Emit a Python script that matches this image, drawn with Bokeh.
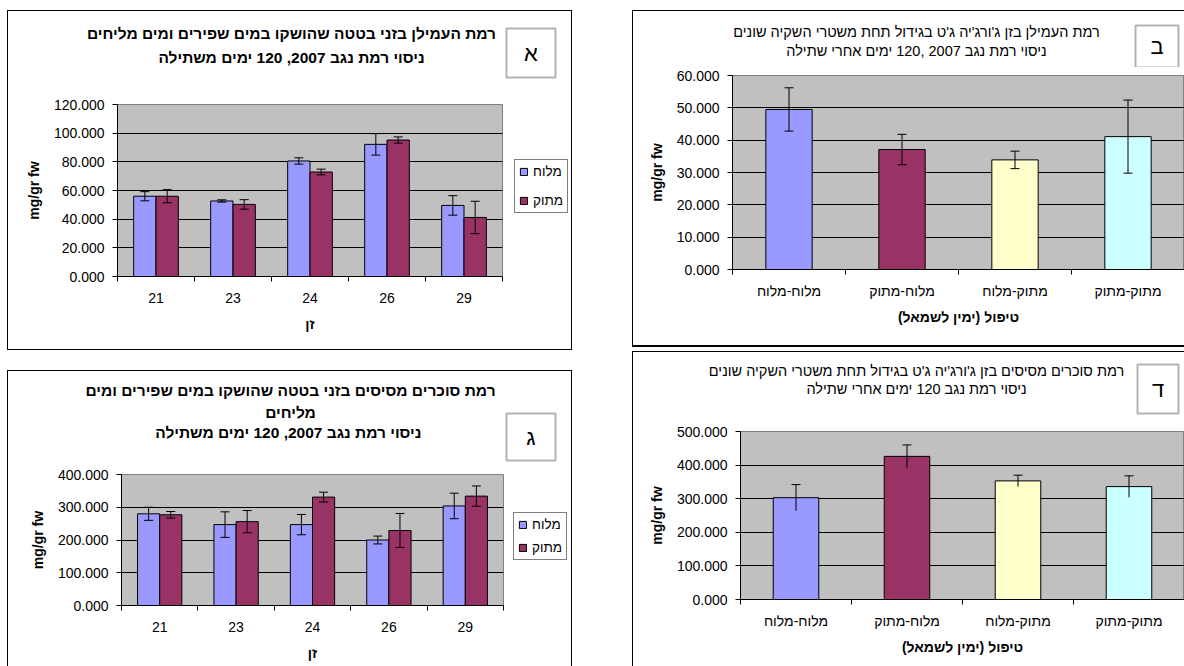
import numpy as np
from bokeh.plotting import figure
from bokeh.models import (Range1d, FixedTicker, NumeralTickFormatter, Label, Legend,
                          LegendItem, Whisker, TeeHead, ColumnDataSource, Spacer, BoxAnnotation)
from bokeh.layouts import row, column
from bokeh.embed import file_html
from bokeh.resources import INLINE

RLM = "\u200f"
FONT = "Liberation Sans"

# ---------------- data ----------------
cultivars = ["21", "23", "24", "26", "29"]
series_names = ["מלוח", "מתוק"]
series_colors = ["#9999FF", "#993366"]

starch_salty = [56.0, 52.7, 80.6, 92.2, 49.6]
starch_salty_err = [3.2, 0.8, 2.2, 7.5, 6.8]
starch_sweet = [56.0, 50.3, 72.9, 95.2, 41.2]
starch_sweet_err = [4.6, 3.3, 2.0, 2.2, 11.3]

sugar_salty = [280.0, 247.0, 247.0, 200.0, 304.0]
sugar_salty_err = [20.0, 39.0, 31.0, 12.0, 39.0]
sugar_sweet = [277.0, 256.0, 331.0, 229.0, 334.0]
sugar_sweet_err = [10.0, 34.0, 15.0, 52.0, 31.0]

treatments = ["מלוח-מלוח", "מלוח-מתוק", "מתוק-מלוח", "מתוק-מתוק"]
treatment_colors = ["#9999FF", "#993366", "#FFFFCC", "#CCFFFF"]
gj_starch = [49.5, 37.1, 33.9, 41.1]
gj_starch_err = [6.7, 4.7, 2.7, 11.3]
gj_sugar = [303.0, 426.0, 353.0, 336.0]
gj_sugar_err = [39.0, 34.0, 17.0, 32.0]

title_a = ["רמת העמילן בזני בטטה שהושקו במים שפירים ומים מליחים",
           "ניסוי רמת נגב 2007, 120 ימים משתילה"]
title_b = ["רמת העמילן בזן ג'ורג'יה ג'ט בגידול תחת משטרי השקיה שונים",
           "ניסוי רמת נגב 2007 ,120 ימים אחרי שתילה"]
title_c = ["רמת סוכרים מסיסים בזני בטטה שהושקו במים שפירים ומים",
           "מליחים",
           "ניסוי רמת נגב  2007, 120 ימים משתילה"]
title_d = ["רמת סוכרים מסיסים בזן ג'ורג'יה ג'ט בגידול תחת משטרי השקיה שונים",
           "ניסוי רמת נגב 120 ימים אחרי שתילה"]
y_title = "mg/gr fw"
x_title_cultivar = "זן"
x_title_treat = "טיפול (ימין לשמאל)" + RLM

TICK_FS = "14px"
AXT_FS = "14px"


def blank_fig(width, height):
    d = figure(width=width, height=height, x_range=Range1d(0, 1), y_range=Range1d(0, 1),
               output_backend="svg", toolbar_location=None, frame_align=False,
               x_axis_type=None, y_axis_type=None, min_border=0)
    d.title.visible = False
    d.grid.visible = False
    d.outline_line_color = None
    d.background_fill_color = "white"
    d.border_fill_color = "white"
    return d


def make_chart(width, height, labels, ymax, ystep, borders):
    n = len(labels)
    left, right, top, bottom = borders
    p = figure(width=width, height=height,
               x_range=Range1d(0.5, n + 0.5), y_range=Range1d(0, ymax),
               output_backend="svg", toolbar_location=None, frame_align=False,
               min_border_left=left, min_border_right=right,
               min_border_top=top, min_border_bottom=bottom)
    p.title.visible = False
    p.background_fill_color = "#C0C0C0"
    p.border_fill_color = "white"
    p.outline_line_color = "#808080"
    p.xgrid.visible = False
    p.ygrid.grid_line_color = "black"
    p.ygrid.grid_line_width = 1

    centers = list(range(1, n + 1))
    bounds = [c - 0.5 for c in centers] + [n + 0.5]
    p.xaxis.ticker = FixedTicker(ticks=centers, minor_ticks=bounds)
    p.xaxis.major_label_overrides = {c: RLM + l + RLM for c, l in zip(centers, labels)}
    p.xaxis.major_tick_out = 0
    p.xaxis.major_tick_in = 0
    p.xaxis.minor_tick_out = 5
    p.xaxis.minor_tick_in = 0
    p.xaxis.minor_tick_line_color = "black"
    p.xaxis.axis_line_color = "black"
    p.xaxis.major_label_standoff = 8
    p.xaxis.major_label_text_font = FONT
    p.xaxis.major_label_text_font_size = TICK_FS
    p.xaxis.major_label_text_color = "black"
    p.xaxis.axis_label_text_font = FONT
    p.xaxis.axis_label_text_font_size = AXT_FS
    p.xaxis.axis_label_text_font_style = "bold"
    p.xaxis.axis_label_text_color = "black"
    p.xaxis.axis_label_standoff = 7

    p.yaxis.ticker = FixedTicker(ticks=list(range(0, ymax + 1, ystep)))
    p.yaxis.formatter = NumeralTickFormatter(format="0.000")
    p.yaxis.major_tick_out = 5
    p.yaxis.major_tick_in = 0
    p.yaxis.minor_tick_line_color = None
    p.yaxis.axis_line_color = "black"
    p.yaxis.major_label_standoff = 8
    p.yaxis.major_label_text_font = FONT
    p.yaxis.major_label_text_font_size = TICK_FS
    p.yaxis.major_label_text_color = "black"
    p.yaxis.axis_label = y_title
    p.yaxis.axis_label_text_font = FONT
    p.yaxis.axis_label_text_font_size = AXT_FS
    p.yaxis.axis_label_text_font_style = "bold"
    p.yaxis.axis_label_text_color = "black"
    p.yaxis.axis_label_standoff = 9
    return p


def add_titles(d, height, x, ys, lines, size, bold):
    for y, t in zip(ys, lines):
        d.add_layout(Label(x=x, y=height - y, x_units="screen", y_units="screen",
                           text=RLM + t + RLM, text_align="center", text_baseline="middle",
                           text_font=FONT, text_font_size=size,
                           text_font_style="bold" if bold else "normal", text_color="black"))


def add_letter(d, height, box, letter):
    x0, y0, x1, y1 = box
    d.add_layout(BoxAnnotation(left=x0, right=x1, top=height - y0, bottom=height - y1,
                               left_units="screen", right_units="screen",
                               top_units="screen", bottom_units="screen",
                               fill_color="white", fill_alpha=1,
                               line_color="black", line_width=2))
    d.add_layout(Label(x=(x0 + x1) / 2, y=height - (y0 + y1) / 2, x_units="screen",
                       y_units="screen", text=letter, text_align="center",
                       text_baseline="middle", text_font=FONT, text_font_size="22px",
                       text_color="black"))


def add_errors(p, xs, vals, errs, lower_cap=True):
    vals = np.array(vals)
    errs = np.array(errs)
    src = ColumnDataSource(dict(x=xs, upper=vals + errs, lower=vals - errs))
    w = Whisker(source=src, base="x", upper="upper", lower="lower",
                line_color="black", line_width=1, level="overlay",
                upper_head=TeeHead(size=9, line_color="black", line_width=1),
                lower_head=TeeHead(size=9, line_color="black", line_width=1) if lower_cap else None)
    p.add_layout(w)


def grouped_panel(width, height, head_h, leg_w, ymax, ystep, borders, s1, e1, s2, e2,
                  title_lines, title_x, title_ys, letter, letter_box,
                  legend_loc, legend_pad, legend_spacing, css):
    ch = height - head_h
    p = make_chart(width - leg_w, ch, cultivars, ymax, ystep, borders)
    idx = np.arange(1, len(cultivars) + 1)
    bw = 0.29
    series = [(s1, e1), (s2, e2)]
    for k, (vals, errs) in enumerate(series):
        xs = idx + (k - 0.5) * bw
        p.vbar(x=xs, top=vals, width=bw, fill_color=series_colors[k],
               line_color="black", line_width=1)
        add_errors(p, xs, vals, errs)
    p.xaxis.axis_label = x_title_cultivar

    # legend area beside the plot: hidden copies of the series supply the swatches
    lf = blank_fig(leg_w, ch)
    proxies = [lf.vbar(x=idx, top=series[k][0], width=bw, fill_color=series_colors[k],
                       line_color="black", line_width=1, visible=False) for k in range(2)]
    leg = Legend(items=[LegendItem(label=series_names[k], renderers=[proxies[k]]) for k in range(2)],
                 location=legend_loc, margin=0, padding=legend_pad, spacing=legend_spacing,
                 border_line_color="black", border_line_width=1,
                 background_fill_color="white", background_fill_alpha=1,
                 label_text_font=FONT, label_text_font_size="13.5px", label_text_color="black",
                 glyph_width=9, glyph_height=9, label_height=12, label_standoff=5,
                 click_policy="none")
    lf.add_layout(leg)

    d = blank_fig(width, head_h)
    add_titles(d, head_h, title_x, title_ys, title_lines, "15.5px", True)
    add_letter(d, head_h, letter_box, letter)
    return column(d, row(p, lf), styles=css)


def treatment_panel(width, height, head_h, ymax, ystep, borders, vals, errs,
                    title_lines, title_x, title_ys, letter, letter_box, lower_cap, css):
    p = make_chart(width, height - head_h, treatments, ymax, ystep, borders)
    idx = np.arange(1, len(treatments) + 1)
    src = ColumnDataSource(dict(x=idx, top=vals, color=treatment_colors))
    p.vbar(x="x", top="top", width=0.41, fill_color="color", line_color="black",
           line_width=1, source=src)
    add_errors(p, idx, vals, errs, lower_cap)
    p.xaxis.axis_label = x_title_treat

    d = blank_fig(width, head_h)
    add_titles(d, head_h, title_x, title_ys, title_lines, "14.5px", False)
    add_letter(d, head_h, letter_box, letter)
    return column(d, p, styles=css)


B1 = "1px solid black"

panelA = grouped_panel(563, 338, 80, 66, 120, 20, (109, 3, 13, 73),
                       starch_salty, starch_salty_err, starch_sweet, starch_sweet_err,
                       title_a, 283, [22, 46], "א", (498, 17, 547, 66),
                       (9, 136), 4, 14, {"border": B1})

panelC = grouped_panel(563, 295, 92, 66, 400, 100, (113, 2, 11, 61),
                       sugar_salty, sugar_salty_err, sugar_sweet, sugar_sweet_err,
                       title_c, 282, [19, 41, 61], "ג", (498, 42, 547, 89),
                       (8, 106), 4, 8,
                       {"border-left": B1, "border-right": B1, "border-top": B1})

panelB = treatment_panel(551, 334, 56, 60, 10, (99, 0, 8, 76), gj_starch, gj_starch_err,
                         title_b, 283, [20, 39], "ב", (502, 14, 545, 56), True,
                         {"border-left": B1, "border-top": B1, "border-bottom": "2px solid black"})

panelD = treatment_panel(551, 314, 68, 500, 100, (107, 0, 11, 67), gj_sugar, gj_sugar_err,
                         title_d, 283, [18, 36], "ד", (504, 12, 545, 61), False,
                         {"border-left": B1, "border-top": B1})

left_col = column(Spacer(width=565, height=10), panelA, Spacer(width=565, height=20), panelC)
right_col = column(Spacer(width=552, height=10), panelB, Spacer(width=552, height=4), panelD)
layout = row(Spacer(width=7, height=666), left_col, Spacer(width=60, height=666), right_col)

open("out.html", "w").write(file_html(layout, INLINE))
